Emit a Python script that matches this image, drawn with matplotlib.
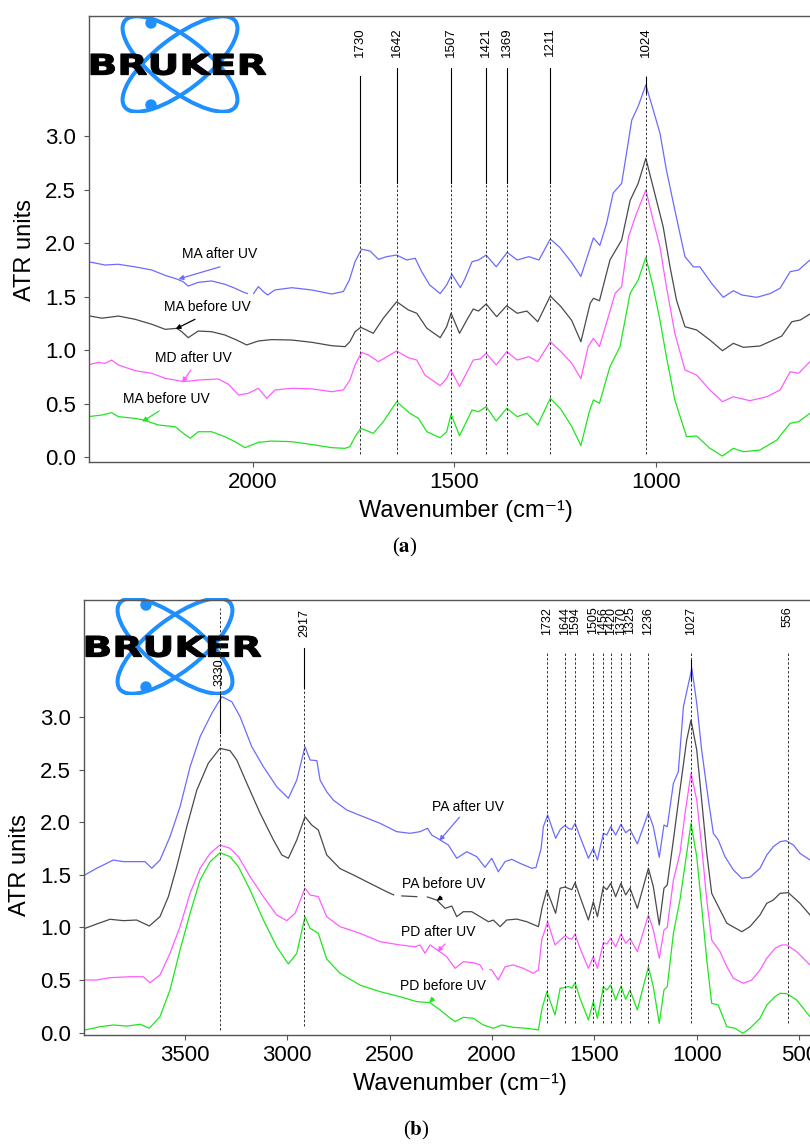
import numpy as np
import matplotlib.pyplot as plt
from matplotlib.patches import Ellipse, Circle, PathPatch
from matplotlib.textpath import TextPath
from matplotlib.font_manager import FontProperties
from matplotlib.transforms import Affine2D

plt.rcParams.update({
    'font.family': ['Liberation Sans', 'DejaVu Sans'],
    'mathtext.fontset': 'stix',
    'axes.edgecolor': '#555555',
    'axes.linewidth': 1.0,
    'xtick.major.size': 3.5,
    'ytick.major.size': 3.5,
    'xtick.color': '#555555',
    'ytick.color': '#555555',
    'xtick.labelcolor': 'black',
    'ytick.labelcolor': 'black',
})

nan = np.nan

# ---------------- panel (a) data ----------------
wn_a_blue = [2408, 2366, 2334, 2292, 2250, 2217, 2188, 2172, 2160, 2135, 2102, 2069, 2044, 2027, 2013, 2005,
             1998, 1986, 1974, 1963, 1945, 1903, 1854, 1804, 1775, 1760, 1746, 1730, 1709, 1688, 1668, 1643,
             1618, 1597, 1581, 1561, 1535, 1519, 1506, 1485, 1473, 1456, 1440, 1421, 1396, 1369, 1344, 1315,
             1290, 1262, 1238, 1209, 1186, 1168, 1155, 1139, 1122, 1106, 1085, 1073, 1060, 1044, 1025, 1007,
             990, 974, 953, 928, 907, 891, 862, 833, 808, 787, 750, 717, 692, 667, 646, 618, 610]
ma_after = [1.828, 1.797, 1.804, 1.78, 1.75, 1.70, 1.666, 1.64, 1.60, 1.635, 1.648, 1.617, 1.58, 1.55, 1.53, nan,
            1.53, 1.595, 1.55, 1.517, 1.564, 1.585, 1.564, 1.526, 1.55, 1.66, 1.83, 1.945, 1.928, 1.85, 1.875, 1.89,
            1.844, 1.86, 1.735, 1.61, 1.53, 1.61, 1.71, 1.585, 1.673, 1.828, 1.844, 1.89, 1.78, 1.915, 1.844, 1.875,
            1.844, 2.04, 1.96, 1.82, 1.69, 1.90, 2.05, 1.98, 2.19, 2.47, 2.56, 2.84, 3.15, 3.28, 3.48, 3.25,
            3.03, 2.685, 2.31, 1.875, 1.78, 1.78, 1.626, 1.495, 1.557, 1.517, 1.495, 1.53, 1.58, 1.735, 1.75, 1.844, 1.86]

wn_a_black = [2408, 2374, 2333, 2292, 2250, 2217, 2188, 2176, 2160, 2135, 2102, 2069, 2040, 2015, 1986, 1953,
              1903, 1854, 1804, 1771, 1759, 1746, 1732, 1701, 1676, 1643, 1614, 1593, 1568, 1535, 1519, 1508,
              1487, 1469, 1453, 1440, 1421, 1395, 1370, 1344, 1320, 1293, 1262, 1236, 1209, 1186, 1163, 1155,
              1140, 1114, 1085, 1064, 1044, 1025, 1003, 982, 965, 949, 928, 899, 866, 835, 808, 783, 742, 709,
              688, 663, 642, 618, 610]
ma_before = [1.323, 1.30, 1.32, 1.29, 1.243, 1.196, 1.205, 1.174, 1.118, 1.18, 1.174, 1.143, 1.096, 1.05, 1.087, 1.10,
             1.096, 1.075, 1.043, 1.034, 1.08, 1.174, 1.215, 1.159, 1.30, 1.454, 1.377, 1.346, 1.206, 1.118, 1.22, 1.346,
             1.159, 1.283, 1.386, 1.367, 1.433, 1.314, 1.417, 1.346, 1.367, 1.267, 1.507, 1.41, 1.28, 1.08, 1.44, 1.486,
             1.463, 1.844, 2.03, 2.40, 2.56, 2.794, 2.467, 2.155, 1.78, 1.47, 1.22, 1.19, 1.096, 0.996, 1.065, 1.028, 1.04, 1.096,
             1.133, 1.267, 1.283, 1.339, 1.36]

wn_a_magenta = [2408, 2383, 2366, 2350, 2333, 2292, 2250, 2217, 2192, 2172, 2135, 2085, 2060, 2035, 2011, 1986,
                1965, 1945, 1903, 1854, 1804, 1775, 1759, 1746, 1730, 1713, 1688, 1643, 1614, 1593, 1573, 1535,
                1519, 1509, 1487, 1470, 1453, 1436, 1421, 1396, 1370, 1344, 1315, 1293, 1262, 1236, 1209, 1186,
                1168, 1155, 1140, 1118, 1101, 1085, 1068, 1048, 1025, 1007, 990, 974, 953, 928, 899, 866, 835,
                808, 767, 725, 692, 667, 646, 618, 610]
md_after = [0.863, 0.888, 0.878, 0.909, 0.863, 0.81, 0.785, 0.738, 0.722, 0.707, 0.722, 0.732, 0.682, 0.582, 0.598, 0.645,
            0.551, 0.629, 0.645, 0.64, 0.613, 0.63, 0.722, 0.863, 0.981, 0.956, 0.894, 0.993, 0.931, 0.909, 0.769, 0.669,
            0.738, 0.816, 0.663, 0.785, 0.909, 0.919, 0.972, 0.863, 0.987, 0.909, 0.94, 0.894, 1.08, 0.99, 0.88, 0.735,
            1.034, 1.112, 1.034, 1.314, 1.533, 1.594, 2.06, 2.28, 2.498, 2.218, 1.968, 1.594, 1.159, 0.816, 0.769, 0.629, 0.52,
            0.566, 0.529, 0.566, 0.629, 0.80, 0.785, 0.894, 0.92]

wn_a_green = [2408, 2374, 2350, 2333, 2292, 2271, 2234, 2192, 2172, 2155, 2135, 2102, 2069, 2044, 2019, 1986,
              1953, 1903, 1854, 1804, 1771, 1759, 1746, 1732, 1701, 1676, 1643, 1610, 1589, 1568, 1535, 1519,
              1508, 1487, 1470, 1456, 1440, 1421, 1396, 1370, 1344, 1320, 1293, 1262, 1236, 1209, 1186, 1165,
              1155, 1140, 1114, 1089, 1064, 1044, 1025, 1007, 990, 974, 953, 924, 899, 866, 835, 808, 783, 742,
              700, 667, 646, 618, 610]
ma_before_2 = [0.38, 0.395, 0.417, 0.38, 0.364, 0.349, 0.302, 0.286, 0.224, 0.178, 0.239, 0.239, 0.193, 0.146, 0.09, 0.14,
               0.152, 0.146, 0.12, 0.09, 0.084, 0.099, 0.193, 0.271, 0.224, 0.333, 0.52, 0.411, 0.364, 0.239, 0.183, 0.239,
               0.402, 0.202, 0.333, 0.442, 0.426, 0.473, 0.339, 0.458, 0.38, 0.411, 0.302, 0.551, 0.45, 0.29, 0.11, 0.43,
               0.536, 0.505, 0.847, 1.034, 1.533, 1.657, 1.869, 1.594, 1.283, 0.94, 0.536, 0.193, 0.199, 0.084, 0.012, 0.084, 0.052, 0.068,
               0.162, 0.318, 0.333, 0.411, 0.43]

peaks_a = ['1730', '1642', '1507', '1421', '1369', '1211', '1024']
peak_pos_a = [1733, 1643, 1508, 1421, 1370, 1262, 1025]

# ---------------- panel (b) data ----------------
wn_b_blue = [3987, 3930, 3881, 3849, 3800, 3751, 3694, 3661, 3621, 3572, 3523, 3474, 3425, 3368, 3319, 3270, 3230,
             3173, 3116, 3051, 2994, 2953, 2913, 2888, 2855, 2839, 2807, 2774, 2709, 2628, 2546, 2465, 2400, 2351,
             2315, 2294, 2253, 2213, 2172, 2123, 2074, 2034, 2001, 1969, 1936, 1903, 1863, 1806, 1785, 1760, 1749,
             1728, 1689, 1667, 1644, 1625, 1610, 1594, 1570, 1529, 1505, 1485, 1456, 1439, 1420, 1396, 1370, 1347,
             1326, 1290, 1236, 1212, 1183, 1160, 1144, 1114, 1090, 1065, 1024, 1000, 976, 943, 919, 895, 862, 821,
             780, 740, 691, 658, 626, 593, 564, 528, 496, 447, 430]
pa_after = [1.50, 1.563, 1.61, 1.641, 1.626, 1.626, 1.626, 1.563, 1.641, 1.863, 2.148, 2.528, 2.814, 3.036, 3.194, 3.146, 3.004,
            2.719, 2.528, 2.338, 2.228, 2.402, 2.719, 2.592, 2.586, 2.40, 2.29, 2.21, 2.117, 2.053, 1.99, 1.911, 1.895, 1.911,
            1.943, 1.879, 1.832, 1.784, 1.658, 1.72, 1.673, 1.572, 1.658, 1.53, 1.626, 1.648, 1.61, 1.563, 1.57, 1.75, 1.958,
            2.069, 1.848, 1.93, 1.97, 1.94, 1.933, 1.99, 1.863, 1.658, 1.753, 1.641, 1.895, 1.88, 1.958, 1.879, 1.981, 1.901,
            1.933, 1.794, 2.091, 1.958, 1.667, 1.974, 1.958, 2.371, 2.481, 3.099, 3.464, 3.131, 2.687, 2.212, 1.895, 1.832, 1.673, 1.547,
            1.468, 1.477, 1.563, 1.689, 1.768, 1.816, 1.825, 1.784, 1.705, 1.641, 1.62]

wn_b_black = [3987, 3930, 3865, 3800, 3735, 3673, 3621, 3580, 3539, 3490, 3441, 3385, 3328, 3279, 3246, 3197, 3132,
              3067, 3026, 2994, 2953, 2913, 2880, 2848, 2807, 2742, 2677, 2596, 2514, 2480, 2460, 2440, 2367, 2340,
              2315, 2270, 2229, 2196, 2172, 2140, 2099, 2058, 2017, 1993, 1960, 1928, 1879, 1830, 1773, 1754, 1732,
              1689, 1667, 1643, 1625, 1610, 1594, 1570, 1529, 1505, 1485, 1456, 1439, 1420, 1396, 1370, 1347, 1326,
              1290, 1236, 1212, 1183, 1160, 1144, 1114, 1082, 1049, 1028, 1000, 976, 951, 927, 886, 853, 780, 740,
              691, 658, 626, 593, 553, 496, 447, 430]
pa_before = [0.992, 1.033, 1.078, 1.065, 1.071, 1.014, 1.103, 1.293, 1.578, 1.958, 2.307, 2.561, 2.703, 2.681, 2.592, 2.371, 2.086,
             1.832, 1.689, 1.658, 1.832, 2.053, 1.974, 1.927, 1.69, 1.56, 1.50, 1.42, 1.34, 1.31, nan, 1.30, 1.293, nan,
             1.29, 1.261, 1.182, 1.204, 1.103, 1.15, 1.15, 1.103, 1.055, 1.07, 1.008, 1.071, 1.08, 1.055, 1.008, 1.198, 1.356,
             1.135, 1.373, 1.385, 1.37, 1.36, 1.426, 1.293, 1.071, 1.245, 1.103, 1.388, 1.36, 1.42, 1.293, 1.42, 1.309, 1.373,
             1.182, 1.563, 1.388, 1.024, 1.373, 1.404, 1.832, 2.307, 2.782, 2.972, 2.687, 2.212, 1.705, 1.325, 1.166, 1.04, 0.96, 1.008,
             1.119, 1.23, 1.261, 1.325, 1.331, 1.23, 1.119, 1.09]

wn_b_magenta = [3987, 3930, 3865, 3767, 3702, 3670, 3621, 3572, 3523, 3474, 3425, 3376, 3328, 3279, 3238, 3181, 3116,
                3051, 3002, 2961, 2913, 2888, 2848, 2807, 2742, 2645, 2546, 2449, 2375, 2351, 2327, 2302, 2262, 2221,
                2180, 2140, 2091, 2058, 2045, 2028, 2010, 2001, 1969, 1936, 1896, 1847, 1798, 1773, 1757, 1728, 1692,
                1667, 1643, 1625, 1610, 1594, 1570, 1529, 1505, 1485, 1456, 1439, 1420, 1396, 1370, 1347, 1326, 1290,
                1236, 1212, 1183, 1160, 1144, 1114, 1082, 1057, 1028, 1000, 976, 951, 927, 886, 853, 821, 772, 731,
                691, 658, 618, 585, 560, 512, 447, 430]
pd_after = [0.501, 0.501, 0.523, 0.532, 0.532, 0.475, 0.548, 0.755, 1.008, 1.325, 1.563, 1.705, 1.784, 1.753, 1.673, 1.483, 1.293,
            1.119, 1.065, 1.135, 1.373, 1.309, 1.293, 1.103, 1.008, 0.945, 0.865, 0.834, 0.817, 0.834, 0.755, 0.834, 0.78, 0.722,
            0.612, 0.675, 0.665, 0.644, 0.60, nan, 0.60, 0.596, 0.501, 0.627, 0.644, 0.612, 0.565, 0.596, 0.881, 1.055, 0.834,
            0.881, 0.92, 0.897, 0.89, 0.938, 0.802, 0.612, 0.722, 0.612, 0.856, 0.843, 0.897, 0.817, 0.938, 0.85, 0.897, 0.77,
            1.119, 0.976, 0.707, 0.976, 1.002, 1.451, 1.705, 2.086, 2.466, 2.212, 1.768, 1.261, 0.881, 0.77, 0.627, 0.517, 0.47, 0.501,
            0.596, 0.707, 0.802, 0.834, 0.834, 0.77, 0.644, 0.62]

wn_b_green = [3987, 3913, 3849, 3783, 3718, 3673, 3621, 3572, 3523, 3474, 3425, 3376, 3328, 3279, 3238, 3181, 3116,
              3051, 2994, 2953, 2913, 2888, 2848, 2807, 2742, 2645, 2546, 2449, 2367, 2302, 2253, 2213, 2180, 2140,
              2091, 2042, 1993, 1952, 1896, 1830, 1773, 1757, 1732, 1692, 1667, 1643, 1625, 1610, 1594, 1570, 1529,
              1505, 1485, 1456, 1439, 1420, 1396, 1370, 1347, 1326, 1290, 1236, 1212, 1183, 1160, 1144, 1114, 1082,
              1049, 1028, 1000, 976, 951, 927, 895, 853, 813, 775, 740, 691, 658, 618, 593, 560, 512, 447, 430]
pd_before = [0.026, 0.057, 0.073, 0.063, 0.08, 0.042, 0.152, 0.406, 0.786, 1.135, 1.452, 1.626, 1.711, 1.673, 1.578, 1.357, 1.071,
             0.817, 0.653, 0.755, 1.103, 0.992, 0.945, 0.70, 0.565, 0.453, 0.39, 0.342, 0.295, 0.285, 0.216, 0.152, 0.105, 0.146,
             0.137, 0.073, 0.042, 0.073, 0.051, 0.042, 0.026, 0.216, 0.39, 0.168, 0.422, 0.43, 0.44, 0.422, 0.475, 0.327, 0.121,
             0.295, 0.137, 0.437, 0.406, 0.453, 0.311, 0.443, 0.317, 0.406, 0.216, 0.627, 0.437, 0.089, 0.406, 0.437, 0.945, 1.261,
             1.705, 1.99, 1.673, 1.198, 0.691, 0.279, 0.263, 0.057, 0.042, -0.006, 0.042, 0.137, 0.263, 0.342, 0.375, 0.37, 0.311, 0.152, 0.12]

peaks_b = ['3330', '2917', '1732', '1644', '1594', '1505', '1456', '1420', '1370', '1325', '1236', '1027', '556']

c_blue, c_black, c_mag, c_green = '#6b6bff', '#4a4a4a', '#ff5cff', '#1ee61e'


def logo(fig, x0, y0):
    # bruker logo drawn in pixel units (y down) inside a small axes
    w, h = 180, 97
    lg = fig.add_axes([x0 / 810, 1 - (y0 + h) / 1148, w / 810, h / 1148])
    lg.set_xlim(0, w)
    lg.set_ylim(h, 0)
    lg.axis('off')
    for ang in (38, -38):
        lg.add_patch(Ellipse((91, 48), 140, 52, angle=ang, fill=False, ec='#1e8fff', lw=2.9))
    for cy in (7, 89):
        lg.add_patch(Circle((62, cy), 5, color='#1e8fff'))
    tp = TextPath((0, 0), 'BRUKER', prop=FontProperties(family='DejaVu Sans', weight='bold'))
    ext = tp.get_extents()
    tr = Affine2D().translate(-ext.x0, -ext.y0).scale(175 / ext.width, -21 / ext.height).translate(2, 59)
    lg.add_patch(PathPatch(tr.transform_path(tp), fc='black', ec='black', lw=0.8))
    lg.set_zorder(0)
    return lg


fig = plt.figure(figsize=(8.1, 11.48), dpi=100)

# ---------------- (a) ----------------
ax = fig.add_axes([89 / 810, 1 - 461.7 / 1148, 754 / 810, 445.7 / 1148])
ax.plot(wn_a_blue, ma_after, color=c_blue, lw=0.9)
ax.plot(wn_a_black, ma_before, color=c_black, lw=0.9)
ax.plot(wn_a_magenta, md_after, color=c_mag, lw=0.9)
ax.plot(wn_a_green, ma_before_2, color=c_green, lw=0.9)
for lab, p in zip(peaks_a, peak_pos_a):
    top = 3.56 if lab in ('1730', '1024') else 3.64
    ax.plot([p, p], [0.03, top], color='#333333', lw=0.7, ls=(0, (2.5, 2)))
    if lab == '1024':
        ax.plot([p, p], [3.40, 3.55], color='black', lw=0.8)
    else:
        ax.plot([p, p], [2.56, top], color='black', lw=0.8)
    ax.text(p, 4.02, lab, rotation=90, ha='center', va='top', fontsize=9.5)

ann_a = [('MA after UV', (2081, 1.90), (2081, 1.78), (2184, 1.666), c_blue),
         ('MA before UV', (2112, 1.40), (2143, 1.29), (2191, 1.20), 'black'),
         ('MD after UV', (2146, 0.93), (2153, 0.816), (2175, 0.70), c_mag),
         ('MA before UV', (2215, 0.545), (2232, 0.433), (2274, 0.333), c_green)]
for txt, tpos, tail, tip, col in ann_a:
    ax.text(*tpos, txt, ha='center', va='center', fontsize=10)
    ax.annotate('', xy=tip, xytext=tail,
                arrowprops=dict(arrowstyle='-|>', color=col, lw=0.9, mutation_scale=7, shrinkA=0, shrinkB=0))

ax.set_xlim(2406, 536)
ax.set_ylim(-0.041, 4.124)
ax.set_xticks([2000, 1500, 1000])
ax.set_yticks([0, 0.5, 1.0, 1.5, 2.0, 2.5, 3.0])
ax.set_yticklabels(['0.0', '0.5', '1.0', '1.5', '2.0', '2.5', '3.0'])
ax.tick_params(labelsize=16, pad=4)
ax.tick_params(axis='y', pad=6)
ax.set_xlabel('Wavenumber (cm⁻¹)', fontsize=17, labelpad=5)
ax.set_ylabel('ATR units', fontsize=17)
ax.yaxis.set_label_coords(-0.07, 0.475)
ax.set_zorder(1)
ax.patch.set_visible(False)
logo(fig, 89, 16)
fig.text(405 / 810, 1 - 547 / 1148, r'($\mathbf{a}$)', ha='center', va='center', fontsize=15,
         family='Liberation Serif')

# ---------------- (b) ----------------
bx = fig.add_axes([84 / 810, 1 - 1035 / 1148, 752 / 810, 435 / 1148])
bx.plot(wn_b_blue, pa_after, color=c_blue, lw=0.9)
bx.plot(wn_b_black, pa_before, color=c_black, lw=0.9)
bx.plot(wn_b_magenta, pd_after, color=c_mag, lw=0.9)
bx.plot(wn_b_green, pd_before, color=c_green, lw=0.9)
for lab in peaks_b:
    p = int(lab)
    if lab == '3330':
        bx.plot([p, p], [0.03, 4.04], color='#333333', lw=0.7, ls=(0, (2.5, 2)))
        bx.plot([p, p], [2.85, 3.22], color='black', lw=0.8)
        bx.text(p, 3.56, lab, rotation=90, ha='center', va='top', fontsize=9)
    elif lab == '2917':
        bx.plot([p, p], [0.06, 3.66], color='#333333', lw=0.7, ls=(0, (2.5, 2)))
        bx.plot([p, p], [3.28, 3.66], color='black', lw=0.8)
        bx.text(p, 4.03, lab, rotation=90, ha='center', va='top', fontsize=9)
    else:
        bx.plot([p, p], [0.09, 3.62], color='#333333', lw=0.7, ls=(0, (2.5, 2)))
        if lab == '1027':
            bx.plot([p, p], [3.35, 3.54], color='black', lw=0.8)
        bx.text(p, 4.05, lab, rotation=90, ha='center', va='top', fontsize=9)

ann_b = [('PA after UV', (2117, 2.148), (2159, 2.048), (2257, 1.825), c_blue),
         ('PA before UV', (2234, 1.41), (2245, 1.287), (2270, 1.255), 'black'),
         ('PD after UV', (2263, 0.954), (2229, 0.843), (2267, 0.77), c_mag),
         ('PD before UV', (2239, 0.444), (2286, 0.327), (2306, 0.285), c_green)]
for txt, tpos, tail, tip, col in ann_b:
    bx.text(*tpos, txt, ha='center', va='center', fontsize=10)
    bx.annotate('', xy=tip, xytext=tail,
                arrowprops=dict(arrowstyle='-|>', color=col, lw=0.9, mutation_scale=7, shrinkA=0, shrinkB=0))

bx.set_xlim(3992, 320)
bx.set_ylim(-0.022, 4.113)
bx.set_xticks([3500, 3000, 2500, 2000, 1500, 1000, 500])
bx.set_yticks([0, 0.5, 1.0, 1.5, 2.0, 2.5, 3.0])
bx.set_yticklabels(['0.0', '0.5', '1.0', '1.5', '2.0', '2.5', '3.0'])
bx.tick_params(labelsize=16, pad=4)
bx.tick_params(axis='y', pad=6)
bx.set_xlabel('Wavenumber (cm⁻¹)', fontsize=17, labelpad=5)
bx.set_ylabel('ATR units', fontsize=17)
bx.yaxis.set_label_coords(-0.07, 0.39)
bx.set_zorder(1)
bx.patch.set_visible(False)
logo(fig, 84, 598)
fig.text(416 / 810, 1 - 1130 / 1148, r'($\mathbf{b}$)', ha='center', va='center', fontsize=15,
         family='Liberation Serif')

fig.savefig('out.png', dpi=100, facecolor='white')
